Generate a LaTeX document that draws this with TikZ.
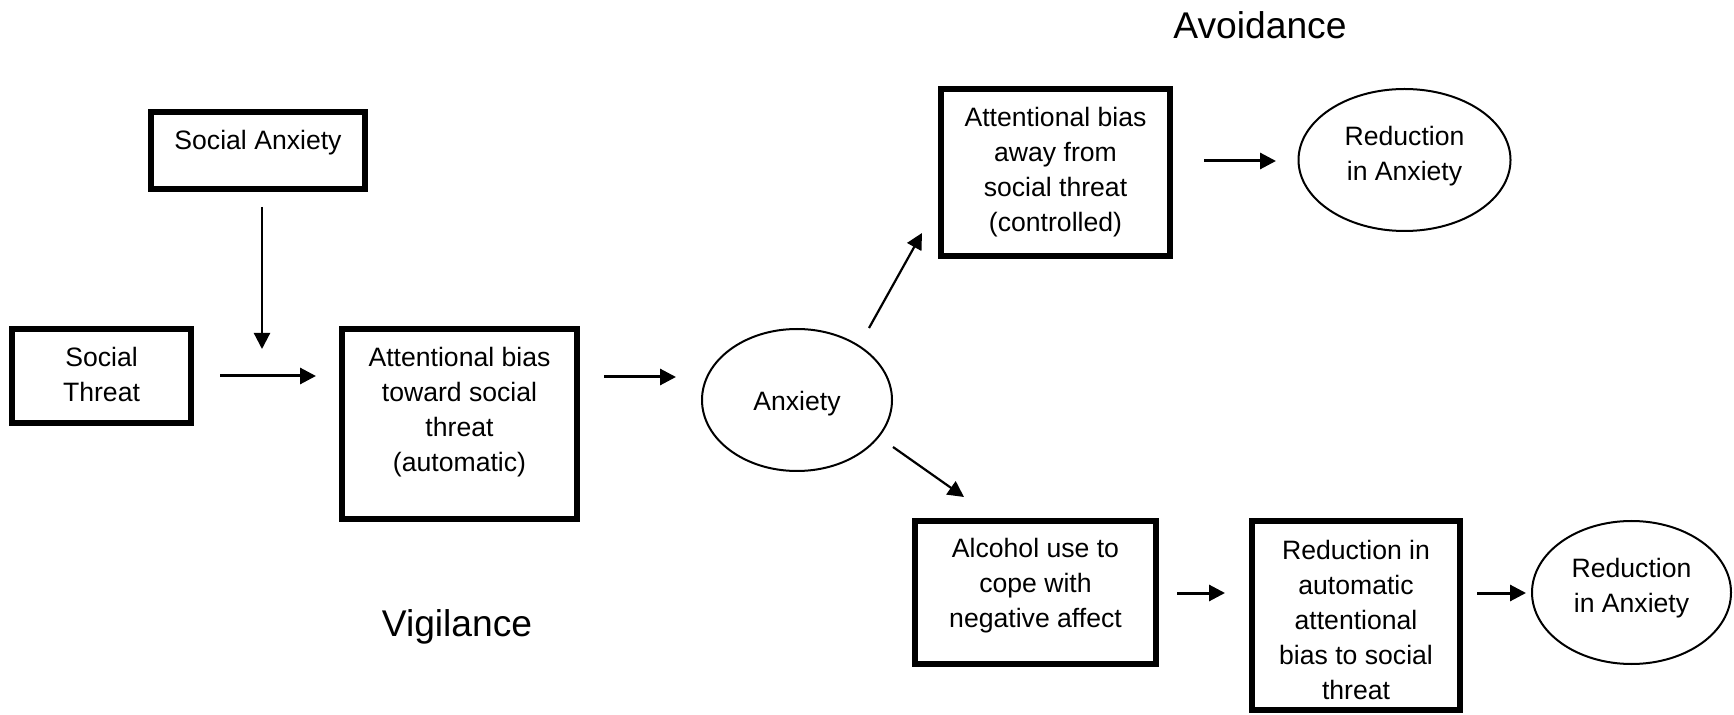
\documentclass[tikz,border=0pt]{standalone}
\usepackage{fontspec}
\setmainfont{Liberation Sans}
\usetikzlibrary{arrows.meta,shapes.geometric}
\begin{document}
\begin{tikzpicture}[x=0.5pt,y=-0.5pt,
  box/.style={draw,line width=2.9pt,inner sep=0pt},
  oval/.style={draw,ellipse,line width=1pt,inner sep=0pt},
  txt/.style={align=center,inner sep=0pt,font=\fontsize{13.3pt}{17.5pt}\selectfont},
  big/.style={inner sep=0pt,font=\fontsize{18.6pt}{22pt}\selectfont},
  arr/.style={line width=1.5pt,-{Triangle[length=8pt,width=8pt]}},
  thinarr/.style={line width=1.1pt,-{Triangle[length=8pt,width=8pt]}}]
\useasboundingbox (0,0) rectangle (1734,715);
% boxes
\node[box,minimum width=107pt,minimum height=38.5pt] (sa) at (258,150.5) {};
\node[txt] (sat) at (258,143) {Social Anxiety};
\node[box,minimum width=89.5pt,minimum height=47pt] (st) at (101.5,376) {};
\node[txt] (stt) at (101.5,374.5) {Social\\Threat};
\node[box,minimum width=117.5pt,minimum height=95pt] (ab1) at (459.5,424) {};
\node[txt] (ab1t) at (459.5,412.5) {Attentional bias\\toward social\\threat\\(automatic)};
\node[box,minimum width=114.5pt,minimum height=83.5pt] (ab2) at (1055.5,172.5) {};
\node[txt] (ab2t) at (1055.5,172) {Attentional bias\\away from\\social threat\\(controlled)};
\node[box,minimum width=120.5pt,minimum height=71.5pt] (alc) at (1035.5,592.5) {};
\node[txt] (alct) at (1035.5,586) {Alcohol use to\\cope with\\negative affect};
\node[box,minimum width=104pt,minimum height=94.5pt] (rb) at (1356,615.5) {};
\node[txt] (rbt) at (1356,619.5) {Reduction in\\automatic\\attentional\\bias to social\\threat};
% ellipses
\node[oval,minimum width=95pt,minimum height=71pt] (anx) at (797,400) {};
\node[txt] (anxt) at (797,403.5) {Anxiety};
\node[oval,minimum width=106pt,minimum height=71pt] (red1) at (1404.5,160) {};
\node[txt] (red1t) at (1404.5,156.5) {Reduction\\in Anxiety};
\node[oval,minimum width=99.5pt,minimum height=71.5pt] (red2) at (1631.5,592.5) {};
\node[txt] (red2t) at (1631.5,588) {Reduction\\in Anxiety};
% labels
\node[big] (avoid) at (1260,25) {Avoidance};
\node[big] (vig) at (457,627) {Vigilance};
% arrow endpoints
\coordinate (a1s) at (262,207); \coordinate (a1e) at (262,349);
\coordinate (a2s) at (220,376); \coordinate (a2e) at (316,376);
\coordinate (a3s) at (604,377); \coordinate (a3e) at (676,377);
\coordinate (a4s) at (869,328); \coordinate (a4e) at (922,233);
\coordinate (a5s) at (893,447); \coordinate (a5e) at (964,497);
\coordinate (a6s) at (1204,161); \coordinate (a6e) at (1276,161);
\coordinate (a7s) at (1177,593); \coordinate (a7e) at (1225,593);
\coordinate (a8s) at (1477,593); \coordinate (a8e) at (1526,593);
\draw[thinarr] (a1s) -- (a1e);
\draw[arr] (a2s) -- (a2e);
\draw[arr] (a3s) -- (a3e);
\draw[thinarr] (a4s) -- (a4e);
\draw[thinarr] (a5s) -- (a5e);
\draw[arr] (a6s) -- (a6e);
\draw[arr] (a7s) -- (a7e);
\draw[arr] (a8s) -- (a8e);
\end{tikzpicture}
\end{document}
